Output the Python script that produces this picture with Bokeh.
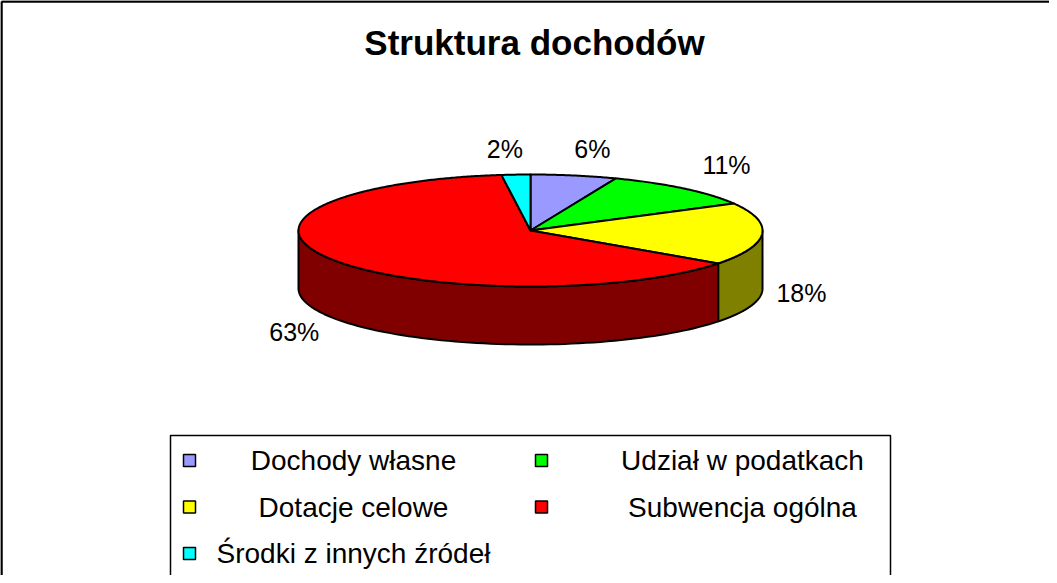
import numpy as np
from bokeh.plotting import figure
from bokeh.models import Range1d
from bokeh.core.properties import value
from bokeh.embed import file_html
from bokeh.resources import INLINE

# ---- data ----
title_text = "Struktura dochodów"
categories = ["Dochody własne", "Udział w podatkach", "Dotacje celowe",
              "Subwencja ogólna", "Środki z innych źródeł"]
shares = [6, 11, 18, 63, 2]
top_colors = ["#9999FF", "#00FF00", "#FFFF00", "#FF0000", "#00FFFF"]
side_colors = ["#4C4C80", "#008000", "#808000", "#800000", "#008080"]
label_nudge_x = [9, 9.5, -10.5, 6.5, -8]
label_nudge_y = [0, -3, -0.5, 1, 1.5]

FONT = "Liberation Sans"

# ---- geometry (page pixel coordinates) ----
W, H = 1049, 575
p = figure(width=W, height=H, x_range=Range1d(8, 8 + W), y_range=Range1d(8 + H, 8),
           output_backend="svg", toolbar_location=None, min_border=0,
           x_axis_location=None, y_axis_location=None)
p.grid.visible = False
p.outline_line_color = None
p.background_fill_color = "white"
p.border_fill_color = "white"

# chart area frame (right/bottom lie beyond the visible window)
p.segment(x0=[9, 9], y0=[9, 9], x1=[1100, 9], y1=[9, 700], line_color="black", line_width=2.5)

cx, cy, rx, ry, depth = 538.0, 238.0, 232.0, 56.0, 58.0

vals = np.array(shares, dtype=float)
frac = vals / vals.sum()
ends = np.cumsum(frac) * 360.0
starts = ends - frac * 360.0


def ell(theta_deg, dy=0.0):
    t = np.radians(theta_deg)
    return cx + rx * np.sin(t), cy - ry * np.cos(t) + dy


# side walls (visible front half: 90..270 deg clockwise from top)
sx, sy, sc = [], [], []
for a, b, col in zip(starts, ends, side_colors):
    lo, hi = max(a, 90.0), min(b, 270.0)
    if hi <= lo:
        continue
    th = np.linspace(lo, hi, 80)
    tx, ty = ell(th)
    bx, by = ell(th[::-1], depth)
    sx.append(np.concatenate([tx, bx]))
    sy.append(np.concatenate([ty, by]))
    sc.append(col)
p.patches(xs=sx, ys=sy, fill_color=sc, line_color="black", line_width=2, line_join="round")

# top slices
wx, wy = [], []
for a, b in zip(starts, ends):
    th = np.linspace(a, b, max(int((b - a) * 2), 6))
    ax, ay = ell(th)
    wx.append(np.concatenate([[cx], ax]))
    wy.append(np.concatenate([[cy], ay]))
p.patches(xs=wx, ys=wy, fill_color=top_colors, line_color="black", line_width=2, line_join="round")

# data labels
mid = (starts + ends) / 2.0
t = np.radians(mid)
lx = cx + (rx + 50) * np.sin(t) + np.array(label_nudge_x)
ly = cy - (ry + 27) * np.cos(t) + np.where(np.cos(t) < 0, depth, 0.0) + np.array(label_nudge_y)
p.text(x=lx, y=ly, text=[f"{v}%" for v in shares], text_align="center", text_baseline="middle",
       text_font=value(FONT), text_font_size="25px", text_color="black")

# title
p.text(x=[542], y=[50], text=[title_text], text_align="center", text_baseline="middle",
       text_font=value(FONT), text_font_size="35px", text_font_style="bold", text_color="black")

# legend
p.quad(left=[178], right=[898], top=[443], bottom=[700], fill_color="white",
       line_color="black", line_width=1.5)
idx = np.arange(len(categories))
col = idx % 2
row = idx // 2
sq_x = 197 + col * 352
sq_y = 468 + row * 46.5
p.rect(x=sq_x, y=sq_y, width=12, height=12, fill_color=top_colors, line_color="black", line_width=1.5)
p.text(x=361 + col * 389, y=sq_y, text=categories, text_align="center", text_baseline="middle",
       text_font=value(FONT), text_font_size="28px", text_color="black")

open("out.html", "w").write(file_html(p, INLINE))
